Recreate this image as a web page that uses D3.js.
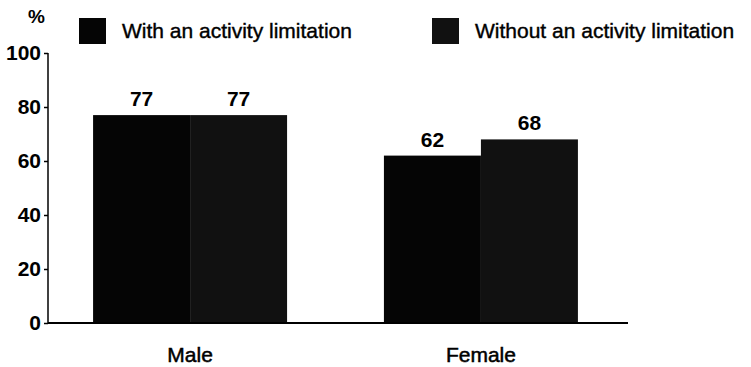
<!DOCTYPE html>
<html>
<head>
<meta charset="utf-8">
<script src="https://cdn.jsdelivr.net/npm/d3@7"></script>
<style>
  body { margin: 0; background: #fff; }
  svg { display: block; font-family: "Liberation Sans", Arial, sans-serif; }
</style>
</head>
<body>
<div id="chart"></div>
<script>
window.onload = function() {
    const categories = ["Male", "Female"];
    const seriesNames = ["With an activity limitation", "Without an activity limitation"];
    const withLimitation = [77, 62];
    const withoutLimitation = [77, 68];
    const yTicks = [0, 20, 40, 60, 80, 100];

    const data = categories.map((c, i) => ({
        category: c,
        values: [withLimitation[i], withoutLimitation[i]]
    }));

    const width = 751, height = 367;
    const left = 48, right = 623, top = 53, bottom = 323;

    const svg = d3.select("#chart")
        .append("svg")
        .attr("width", width)
        .attr("height", height);

    const x0 = d3.scaleBand()
        .domain(categories)
        .range([left, right])
        .paddingInner(0.333)
        .paddingOuter(0.155);

    const x1 = d3.scaleBand()
        .domain(d3.range(seriesNames.length))
        .range([0, x0.bandwidth()])
        .padding(0);

    const y = d3.scaleLinear()
        .domain([0, 100])
        .range([bottom, top]);

    const color = ["#050505", "#111111"];

    // bars
    const groups = svg.selectAll(".group")
        .data(data)
        .enter().append("g")
        .attr("class", "group")
        .attr("transform", d => `translate(${x0(d.category)},0)`);

    groups.selectAll("rect")
        .data(d => d.values)
        .enter().append("rect")
        .attr("x", (d, i) => x1(i))
        .attr("y", d => y(d))
        .attr("width", x1.bandwidth())
        .attr("height", d => y(0) - y(d))
        .attr("fill", (d, i) => color[i]);

    // value labels
    groups.selectAll(".val")
        .data(d => d.values)
        .enter().append("text")
        .attr("class", "val")
        .attr("x", (d, i) => x1(i) + x1.bandwidth() / 2)
        .attr("y", d => y(d) - 9)
        .attr("text-anchor", "middle")
        .style("font-size", "21px")
        .style("font-weight", "bold")
        .text(d => d);

    // y axis
    const yAxis = svg.append("g")
        .attr("transform", `translate(${left},0)`)
        .call(d3.axisLeft(y).tickValues(yTicks).tickSize(4).tickPadding(3));
    yAxis.select(".domain").attr("stroke", "#000").attr("stroke-width", 1.5)
        .attr("d", `M0,${top}V${bottom}`);
    yAxis.selectAll("line").attr("stroke-width", 1.5);
    yAxis.selectAll("text")
        .style("font-size", "21px")
        .style("font-weight", "bold")
        .style("font-family", "'Liberation Sans', Arial, sans-serif")
        .attr("fill", "#000");

    // baseline
    svg.append("line")
        .attr("x1", left).attr("x2", 628)
        .attr("y1", y(0)).attr("y2", y(0))
        .attr("stroke", "#000")
        .attr("stroke-width", 2);

    // x axis labels
    svg.selectAll(".cat")
        .data(categories)
        .enter().append("text")
        .attr("class", "cat")
        .attr("x", d => x0(d) + x0.bandwidth() / 2)
        .attr("y", 362)
        .attr("text-anchor", "middle")
        .style("font-size", "21px")
        .attr("stroke", "#000")
        .attr("stroke-width", 0.5)
        .text(d => d);

    // % unit
    svg.append("text")
        .attr("x", 45)
        .attr("y", 23)
        .attr("text-anchor", "end")
        .style("font-size", "19px")
        .style("font-weight", "bold")
        .text("%");

    // legend
    const legendX = [79, 432];
    const legend = svg.selectAll(".legend")
        .data(seriesNames)
        .enter().append("g")
        .attr("class", "legend")
        .attr("transform", (d, i) => `translate(${legendX[i]},18)`);

    legend.append("rect")
        .attr("width", 27)
        .attr("height", 26)
        .attr("fill", (d, i) => color[i]);

    legend.append("text")
        .attr("x", 43)
        .attr("y", 20)
        .style("font-size", "21px")
        .attr("stroke", "#000")
        .attr("stroke-width", 0.4)
        .text(d => d);
};
</script>
</body>
</html>
